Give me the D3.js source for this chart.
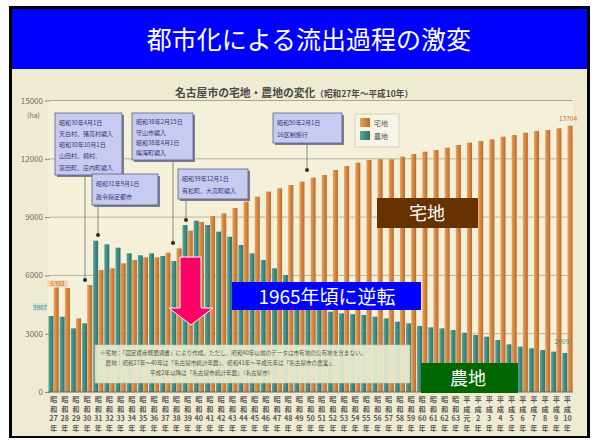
<!DOCTYPE html>
<html>
<head>
<meta charset="utf-8">
<script src="https://cdn.jsdelivr.net/npm/d3@7"></script>
<style>
  html, body { margin: 0; padding: 0; background: #ffffff; }
  svg { display: block; }
  text { font-family: "Noto Sans CJK JP", "Noto Sans", sans-serif; }
</style>
</head>
<body>
<svg id="chart" width="596" height="440"></svg>
<script>
// 名古屋市の宅地・農地面積（ha）, 昭和27年〜平成10年
const eraNames = ["昭和","昭和","昭和","昭和","昭和","昭和","昭和","昭和","昭和","昭和",
  "昭和","昭和","昭和","昭和","昭和","昭和","昭和","昭和","昭和","昭和",
  "昭和","昭和","昭和","昭和","昭和","昭和","昭和","昭和","昭和","昭和",
  "昭和","昭和","昭和","昭和","昭和","昭和","昭和",
  "平成","平成","平成","平成","平成","平成","平成","平成","平成","平成"];
const yearNumbers = ["27","28","29","30","31","32","33","34","35","36",
  "37","38","39","40","41","42","43","44","45","46",
  "47","48","49","50","51","52","53","54","55","56",
  "57","58","59","60","61","62","63",
  "元","2","3","4","5","6","7","8","9","10"];
const residential = [5388, 5350, 3790, 5508, 6278, 6364, 6621, 6793, 6930, 6930,
  7170, 7393, 8302, 8750, 9057, 9193, 9470, 9795, 10052, 10310,
  10480, 10652, 10823, 11029, 11167, 11424, 11630, 11801, 11939, 11980,
  11973, 12110, 12248, 12368, 12453, 12573, 12711,
  12831, 12917, 13003, 13140, 13226, 13345, 13431, 13483, 13569, 13704];
const farmland = [3907, 3876, 3276, 3533, 7786, 7600, 7426, 7137, 7034, 7137,
  7000, 6740, 8594, 8816, 8594, 8250, 7992, 7564, 7135, 6793,
  6364, 6021, 5600, 5100, 4600, 4134, 4048, 4000, 3962, 3876,
  3790, 3618, 3533, 3396, 3327, 3276, 3190,
  3053, 2933, 2847, 2676, 2454, 2333, 2247, 2161, 2075, 2009];
const seriesNames = ["農地", "宅地"];
const yTicks = [0, 3000, 6000, 9000, 12000, 15000];

// 注記（年ごとの市域の変化）
const callouts = [
  { year: 3, lines: ["昭和30年4月1日", "天白村、猪高村編入", "昭和30年10月1日", "山田村、楠村、", "富田町、庄内町編入"] },
  { year: 4, lines: ["昭和31年9月1日", "政令指定都市"] },
  { year: 11, lines: ["昭和38年2月15日", "守山市編入", "昭和38年4月1日", "鳴海町編入"] },
  { year: 12, lines: ["昭和39年12月1日", "有松町、大高町編入"] },
  { year: 23, lines: ["昭和50年2月1日", "16区制施行"] }
];
const noteLines = [
  "※宅地：「固定資産概要調書」により作成。ただし、昭和40年以前のデータは市有地の公有地を含まない。",
  "　農地：昭和27年〜40年は「名古屋市統計年鑑」、昭和41年〜平成元年は「名古屋市の農業」、",
  "平成2年以降は「名古屋市統計年鑑」（名古屋市）"
];

const svg = d3.select("#chart");
const W = 596, H = 440;

// 枠とタイトル帯
svg.append("rect").attr("x", 0).attr("y", 0).attr("width", W).attr("height", H).attr("fill", "#ffffff");
svg.append("rect").attr("x", 9).attr("y", 6).attr("width", 581).attr("height", 432).attr("fill", "#000000");
svg.append("rect").attr("x", 12).attr("y", 9).attr("width", 575).attr("height", 60).attr("fill", "#0000FF");
svg.append("rect").attr("x", 12).attr("y", 69).attr("width", 575).attr("height", 367).attr("fill", "#EFEBD2");
svg.append("text").attr("x", 309).attr("y", 49).attr("text-anchor", "middle")
  .attr("fill", "#ffffff").attr("font-size", 25).text("都市化による流出過程の激変");

// 図のタイトル
const ttl = svg.append("text").attr("x", 294).attr("y", 97).attr("text-anchor", "middle").attr("fill", "#4a4a4a");
ttl.append("tspan").attr("font-size", 10.8).attr("font-weight", "bold").text("名古屋市の宅地・農地の変化");
ttl.append("tspan").attr("font-size", 8.6).attr("font-weight", "bold").text("（昭和27年〜平成10年）");

// スケール
const idx = d3.range(residential.length);
const x0 = d3.scaleBand().domain(idx).range([48, 573]).paddingInner(0.08).paddingOuter(0.04);
const x1 = d3.scaleBand().domain(seriesNames).range([0, x0.bandwidth()]).paddingInner(0.04);
const y = d3.scaleLinear().domain([0, 15000]).range([392, 100.5]);

// グラデーション
const defs = svg.append("defs");
function grad(id, c1, c2, c3) {
  const g = defs.append("linearGradient").attr("id", id).attr("x1", 0).attr("x2", 1).attr("y1", 0).attr("y2", 0);
  g.append("stop").attr("offset", "0%").attr("stop-color", c1);
  g.append("stop").attr("offset", "45%").attr("stop-color", c2);
  g.append("stop").attr("offset", "100%").attr("stop-color", c3);
}
grad("gOrange", "#E7A363", "#D8873F", "#B86A2C");
grad("gTeal", "#5FA79E", "#3F8E85", "#2E716A");

// 棒の間の明るい地
svg.append("rect").attr("x", 48).attr("y", 101).attr("width", 525).attr("height", 291).attr("fill", "#F5F0D9");

// 目盛線と縦軸
const yAxis = d3.axisLeft(y).tickValues(yTicks).tickSize(5).tickPadding(2).tickFormat(d3.format("d"));
const gy = svg.append("g").attr("transform", "translate(50,0)").call(yAxis);
gy.select(".domain").remove();
gy.selectAll(".tick line").attr("stroke", "#8d8a80");
gy.selectAll(".tick text").attr("fill", "#6f6d66").attr("font-size", 8).attr("font-family", "Liberation Sans, Arial, sans-serif");
svg.append("g").selectAll("line").data(yTicks.filter(d => d > 0)).join("line")
  .attr("x1", 50).attr("x2", 572).attr("y1", d => y(d)).attr("y2", d => y(d))
  .attr("stroke", "#a8a596").attr("stroke-width", d => d === 15000 ? 1.1 : 0.8);
svg.append("text").attr("x", 40).attr("y", 118).attr("text-anchor", "end")
  .attr("font-size", 7).attr("fill", "#6f6d66").text("(ha)");

// 棒
const groups = svg.append("g").selectAll("g").data(idx).join("g")
  .attr("transform", i => `translate(${x0(i)},0)`);
groups.append("rect").attr("x", x1("農地")).attr("width", x1.bandwidth())
  .attr("y", i => y(farmland[i])).attr("height", i => y(0) - y(farmland[i])).attr("fill", "url(#gTeal)");
groups.append("rect").attr("x", x1("宅地")).attr("width", x1.bandwidth())
  .attr("y", i => y(residential[i])).attr("height", i => y(0) - y(residential[i])).attr("fill", "url(#gOrange)");

svg.append("line").attr("x1", 48).attr("x2", 573).attr("y1", y(0)).attr("y2", y(0))
  .attr("stroke", "#6d6a60").attr("stroke-width", 1);

// 横軸（縦書きの年ラベル）
const xAxis = d3.axisBottom(x0).tickSize(0).tickFormat("");
const gx = svg.append("g").attr("transform", `translate(0,${y(0)})`).call(xAxis);
gx.select(".domain").remove();
gx.selectAll(".tick").each(function (i) {
  const t = d3.select(this).append("text").attr("fill", "#5a5a5a").attr("font-size", 7.2)
    .attr("font-weight", "bold").attr("text-anchor", "middle");
  const rows = [eraNames[i][0], eraNames[i][1], yearNumbers[i], "年"];
  rows.forEach((r, k) => {
    t.append("tspan").attr("x", 0).attr("y", 10 + k * 9.6).text(r);
  });
});

// 数値ラベル（最初と最後）
const cx = (i, s) => x0(i) + x1(s) + x1.bandwidth() / 2;
svg.append("rect").attr("x", 47).attr("y", y(residential[0]) - 7).attr("width", 21).attr("height", 7).attr("fill", "#F3D7B5");
svg.append("text").attr("x", 57.5).attr("y", y(residential[0]) - 1.5).attr("text-anchor", "middle")
  .attr("font-size", 6.5).attr("fill", "#C86A2A").attr("font-family", "Liberation Sans, Arial, sans-serif").text(residential[0]);
svg.append("rect").attr("x", 33).attr("y", 303).attr("width", 14).attr("height", 8).attr("fill", "#CFE3D8");
svg.append("text").attr("x", 40).attr("y", 309.5).attr("text-anchor", "middle")
  .attr("font-size", 6.5).attr("fill", "#3F8E85").attr("font-family", "Liberation Sans, Arial, sans-serif").text(farmland[0]);
const last = residential.length - 1;
svg.append("text").attr("x", cx(last, "宅地") - 2).attr("y", y(residential[last]) - 5).attr("text-anchor", "middle")
  .attr("font-size", 6.5).attr("fill", "#C86A2A").attr("font-family", "Liberation Sans, Arial, sans-serif").text(residential[last]);
svg.append("text").attr("x", cx(last, "農地") - 3).attr("y", y(farmland[last]) - 9).attr("text-anchor", "middle")
  .attr("font-size", 6.5).attr("fill", "#3F8E85").attr("font-family", "Liberation Sans, Arial, sans-serif").text(farmland[last]);

// 凡例
const lg = svg.append("g");
lg.append("rect").attr("x", 355).attr("y", 114).attr("width", 44).attr("height", 33).attr("fill", "#F8F5E6").attr("stroke", "#d6d2bf");
seriesNames.slice().reverse().forEach((s, k) => {
  lg.append("rect").attr("x", 360).attr("y", 118 + k * 13).attr("width", 10).attr("height", 9)
    .attr("fill", s === "宅地" ? "url(#gOrange)" : "url(#gTeal)");
  lg.append("text").attr("x", 374).attr("y", 126 + k * 13).attr("font-size", 7).attr("fill", "#555").text(s);
});

// 年表の吹き出し
const boxes = [
  { c: 0, x: 55, y: 113, w: 67, h: 62, lx: 85, dotY: 280 },
  { c: 1, x: 92, y: 174, w: 66, h: 31, lx: 98, dotY: 235 },
  { c: 2, x: 132, y: 113, w: 61, h: 47, lx: 173, dotY: 243 },
  { c: 3, x: 178, y: 169, w: 70, h: 30, lx: 186, dotY: 220 },
  { c: 4, x: 273, y: 113, w: 69, h: 30, lx: 307, dotY: 170 }
];
const cg = svg.append("g");
boxes.forEach(b => {
  const info = callouts[b.c];
  cg.append("line").attr("x1", b.lx).attr("x2", b.lx).attr("y1", b.y + b.h).attr("y2", b.dotY)
    .attr("stroke", "#6b6a70").attr("stroke-width", 0.8);
  cg.append("circle").attr("cx", b.lx).attr("cy", b.dotY).attr("r", 2).attr("fill", "#2b2b2b");
  cg.append("rect").attr("x", b.x + 2).attr("y", b.y + 2).attr("width", b.w).attr("height", b.h).attr("fill", "#7d7d8e");
  cg.append("rect").attr("x", b.x).attr("y", b.y).attr("width", b.w).attr("height", b.h)
    .attr("fill", "#C8CBF0").attr("stroke", "#5d5f84").attr("stroke-width", 0.8);
  const step = (b.h - 6) / info.lines.length;
  info.lines.forEach((ln, k) => {
    cg.append("text").attr("x", b.x + 4).attr("y", b.y + 4 + step * (k + 0.5) + 2.2)
      .attr("font-size", 6).attr("fill", "#34357a").text(ln);
  });
});

// 出典の注記
svg.append("rect").attr("x", 95).attr("y", 345).attr("width", 315).attr("height", 38)
  .attr("fill", "#E5EACF").attr("opacity", 0.94).attr("stroke", "#cdd1b6").attr("stroke-width", 0.6);
noteLines.forEach((ln, k) => {
  svg.append("text").attr("x", k === 2 ? 150 : 100).attr("y", 355 + k * 10)
    .attr("font-size", 5.6).attr("fill", "#55584a").text(ln);
});

// 矢印
svg.append("path")
  .attr("d", "M180,257 L201,257 L201,308 L213,308 L191,325 L169,308 L180,308 Z")
  .attr("fill", "#FF0066").attr("stroke", "#ffffff").attr("stroke-width", 1);

// 強調ラベル
svg.append("rect").attr("x", 377).attr("y", 198).attr("width", 101).attr("height", 30).attr("fill", "#663300");
svg.append("text").attr("x", 427).attr("y", 220).attr("text-anchor", "middle").attr("fill", "#ffffff")
  .attr("font-size", 18).text("宅地");

svg.append("rect").attr("x", 232).attr("y", 282).attr("width", 189).attr("height", 28).attr("fill", "#0000FF");
svg.append("text").attr("x", 327).attr("y", 304).attr("text-anchor", "middle").attr("fill", "#ffffff")
  .attr("font-size", 19).attr("font-family", "Liberation Serif, 'Noto Sans CJK JP', serif").text("1965年頃に逆転");

svg.append("rect").attr("x", 421).attr("y", 363).attr("width", 97).attr("height", 30).attr("fill", "#006600");
svg.append("text").attr("x", 468).attr("y", 385).attr("text-anchor", "middle").attr("fill", "#ffffff")
  .attr("font-size", 18).text("農地");
</script>
</body>
</html>
